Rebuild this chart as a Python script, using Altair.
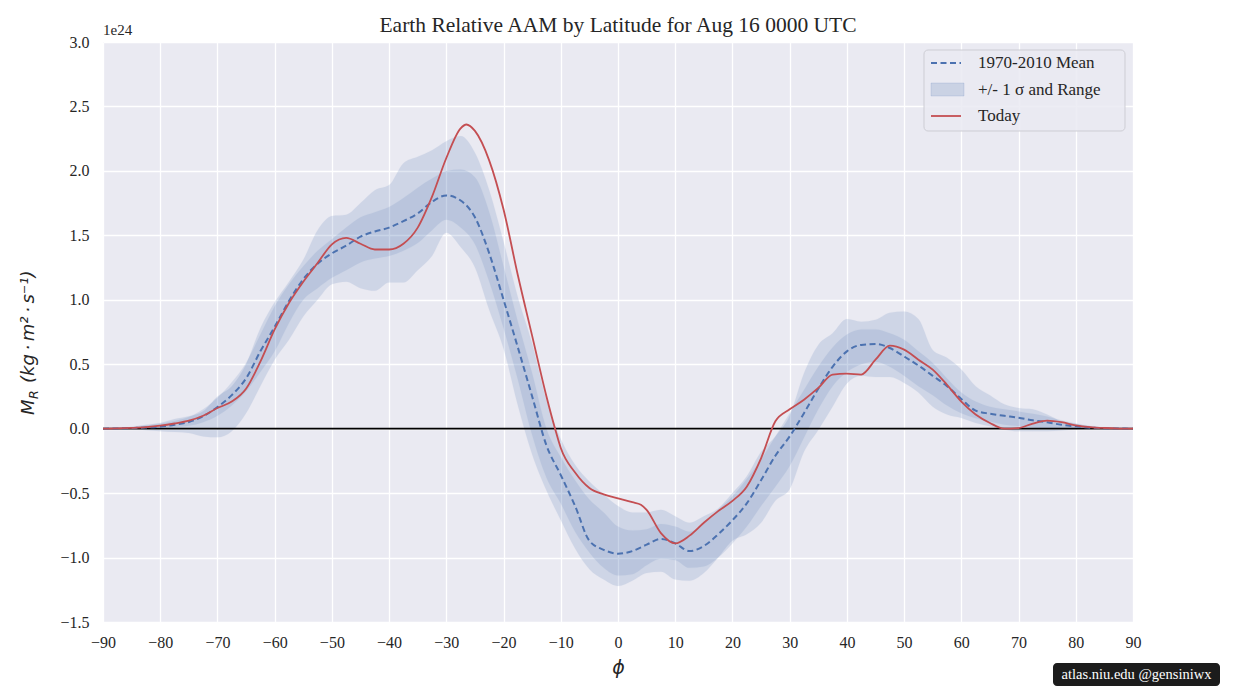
import altair as alt
import pandas as pd

# ---------------- data (values in units of 1e24 kg m^2 s^-1) ----------------
lat = [-90, -87.5, -85, -82.5, -80, -77.5, -75, -72.5, -70, -67.5, -65, -62.5, -60,
       -57.5, -55, -52.5, -50, -47.5, -45, -42.5, -40, -37.5, -35, -32.5, -30,
       -27.5, -25, -22.5, -20, -17.5, -15, -12.5, -10, -7.5, -5, -2.5, 0,
       2.5, 5, 7.5, 10, 12.5, 15, 17.5, 20, 22.5, 25, 27.5, 30,
       32.5, 35, 37.5, 40, 42.5, 45, 47.5, 50, 52.5, 55, 57.5, 60,
       62.5, 65, 67.5, 70, 72.5, 75, 77.5, 80, 82.5, 85, 87.5, 90]

mean_vals = [0.0, 0.002, 0.005, 0.009, 0.015, 0.03, 0.052, 0.096, 0.168, 0.26, 0.39, 0.60, 0.79,
             0.99, 1.16, 1.28, 1.36, 1.42, 1.49, 1.53, 1.56, 1.61, 1.67, 1.76, 1.81,
             1.77, 1.64, 1.36, 1.00, 0.63, 0.25, -0.13, -0.36, -0.60, -0.87, -0.94, -0.97,
             -0.95, -0.90, -0.855, -0.89, -0.95, -0.91, -0.82, -0.71, -0.58, -0.40, -0.21, -0.06,
             0.12, 0.31, 0.48, 0.60, 0.65, 0.657, 0.626, 0.56, 0.49, 0.41, 0.33, 0.23,
             0.14, 0.116, 0.10, 0.085, 0.065, 0.05, 0.03, 0.018, 0.008, 0.003, 0.001, 0.0]

std_hi = [0.0, 0.003, 0.01, 0.025, 0.04, 0.06, 0.09, 0.15, 0.24, 0.36, 0.51, 0.73, 0.95,
          1.12, 1.26, 1.38, 1.47, 1.56, 1.64, 1.68, 1.72, 1.79, 1.87, 1.94, 2.0,
          2.01, 1.95, 1.68, 1.26, 0.83, 0.43, 0.0, -0.22, -0.40, -0.55, -0.65, -0.76,
          -0.79, -0.78, -0.74, -0.76, -0.80, -0.73, -0.63, -0.525, -0.39, -0.24, -0.06, 0.12,
          0.30, 0.48, 0.63, 0.73, 0.77, 0.77, 0.74, 0.69, 0.60, 0.51, 0.39, 0.28,
          0.21, 0.17, 0.15, 0.134, 0.115, 0.095, 0.065, 0.04, 0.02, 0.01, 0.003, 0.0]

std_lo = [0.0, 0.0, 0.002, 0.004, 0.007, 0.012, 0.022, 0.05, 0.10, 0.18, 0.29, 0.44, 0.60,
          0.82, 1.00, 1.09, 1.17, 1.23, 1.29, 1.32, 1.34, 1.38, 1.44, 1.54, 1.62,
          1.56, 1.43, 1.14, 0.78, 0.38, -0.05, -0.38, -0.58, -0.80, -0.96, -1.08, -1.14,
          -1.13, -1.06, -1.01, -1.02, -1.08, -1.07, -1.00, -0.89, -0.76, -0.60, -0.45, -0.29,
          -0.07, 0.15, 0.33, 0.44, 0.50, 0.52, 0.48, 0.41, 0.33, 0.26, 0.18, 0.12,
          0.08, 0.055, 0.03, 0.02, 0.01, 0.005, 0.002, 0.0, 0.0, 0.0, 0.0, 0.0]

rng_hi = [0.0, 0.004, 0.015, 0.03, 0.044, 0.075, 0.096, 0.135, 0.25, 0.33, 0.50, 0.78, 0.98,
          1.14, 1.31, 1.54, 1.65, 1.66, 1.75, 1.85, 1.89, 2.06, 2.11, 2.16, 2.23,
          2.27, 2.14, 1.85, 1.45, 1.02, 0.66, 0.22, -0.08, -0.28, -0.41, -0.51, -0.60,
          -0.65, -0.65, -0.63, -0.68, -0.73, -0.68, -0.62, -0.50, -0.37, -0.18, -0.06, 0.10,
          0.43, 0.65, 0.74, 0.85, 0.83, 0.845, 0.90, 0.91, 0.85, 0.61, 0.55, 0.46,
          0.33, 0.26, 0.19, 0.16, 0.15, 0.11, 0.057, 0.039, 0.02, 0.01, 0.003, 0.0]

rng_lo = [0.0, -0.002, -0.006, -0.012, -0.02, -0.026, -0.034, -0.06, -0.067, -0.02, 0.12, 0.33, 0.535,
          0.69, 0.87, 1.0, 1.12, 1.14, 1.09, 1.07, 1.135, 1.135, 1.23, 1.34, 1.52,
          1.41, 1.25, 0.92, 0.62, 0.18, -0.20, -0.48, -0.71, -0.93, -1.09, -1.17, -1.22,
          -1.18, -1.12, -1.11, -1.17, -1.18, -1.12, -1.00, -0.87, -0.82, -0.73, -0.56, -0.47,
          -0.18, -0.01, 0.17, 0.35, 0.41, 0.40, 0.40, 0.355, 0.28, 0.17, 0.11, 0.083,
          0.044, 0.018, -0.008, -0.02, -0.02, -0.02, -0.015, -0.005, 0.0, 0.0, 0.0, 0.0]

today_lat = [-90, -87.5, -85, -82.5, -80, -77.5, -75, -72.5, -70, -67.5, -65, -62.5, -60,
             -57.5, -55, -52.5, -50, -47.5, -45, -42.5, -40, -37.5, -35, -32.5, -30,
             -27.5, -26.5, -25, -22.5, -20, -17.5, -15, -12.5, -11, -10, -7.5, -5, -2.5, 0,
             2.5, 4, 5, 7.5, 10, 12.5, 15, 17.5, 20, 22.5, 25, 27.5, 30,
             32.5, 35, 37.5, 40, 42.5, 45, 47.5, 50, 52.5, 55, 57.5, 60,
             62.5, 65, 67.5, 70, 72.5, 75, 77.5, 80, 82.5, 85, 87.5, 90]
today_vals = [0.0, 0.002, 0.006, 0.012, 0.023, 0.04, 0.062, 0.10, 0.16, 0.21, 0.31, 0.52, 0.77,
              0.975, 1.14, 1.285, 1.43, 1.48, 1.435, 1.39, 1.39, 1.435, 1.56, 1.80, 2.10,
              2.33, 2.36, 2.31, 2.08, 1.70, 1.19, 0.72, 0.25, 0.0, -0.15, -0.34, -0.46, -0.51, -0.54,
              -0.57, -0.59, -0.63, -0.81, -0.89, -0.83, -0.73, -0.64, -0.56, -0.45, -0.23, 0.057, 0.15,
              0.225, 0.316, 0.42, 0.427, 0.42, 0.535, 0.644, 0.613, 0.535, 0.458, 0.34, 0.21,
              0.11, 0.044, 0.0, 0.005, 0.04, 0.062, 0.05, 0.026, 0.012, 0.005, 0.001, 0.0]

x_ticks = [-90, -80, -70, -60, -50, -40, -30, -20, -10, 0, 10, 20, 30, 40, 50, 60, 70, 80, 90]
y_ticks = [-1.5, -1.0, -0.5, 0.0, 0.5, 1.0, 1.5, 2.0, 2.5, 3.0]

legend_labels = ["1970-2010 Mean", "+/- 1 \u03c3 and Range", "Today"]
title_text = "Earth Relative AAM by Latitude for Aug 16 0000 UTC"

clim = pd.DataFrame({"lat": lat, "mean": mean_vals, "std_lo": std_lo, "std_hi": std_hi,
                     "rng_lo": rng_lo, "rng_hi": rng_hi})
today = pd.DataFrame({"lat": today_lat, "today": today_vals})
one = pd.DataFrame({"k": [0]})

BLUE = "#4C72B0"
RED = "#C44E52"
TXT = "#262626"
SERIF = "Liberation Serif"

xscale = alt.Scale(domain=[-90, 90], nice=False, zero=False)
yscale = alt.Scale(domain=[-1.5, 3.0], nice=False, zero=False)
xaxis = alt.Axis(values=x_ticks, format="d", title="\u03d5", titleFont="DejaVu Sans",
                 titleFontStyle="italic", titleFontSize=19, titleFontWeight="normal",
                 labelPadding=12, titlePadding=8, labelFlush=False)
yaxis = alt.Axis(values=y_ticks, format=".1f", title=None, labelPadding=14, labelFlush=False)


def X(field):
    return alt.X(field, type="quantitative", scale=xscale, axis=xaxis)


def Y(field):
    return alt.Y(field, type="quantitative", scale=yscale, axis=yaxis)


rng_band = alt.Chart(clim).mark_area(
    color=BLUE, opacity=0.17, interpolate="monotone",
    stroke=BLUE, strokeOpacity=0.12, strokeWidth=1
).encode(x=X("lat"), y=Y("rng_lo"), y2="rng_hi")

std_band = alt.Chart(clim).mark_area(
    color=BLUE, opacity=0.15, interpolate="monotone",
    stroke=BLUE, strokeOpacity=0.12, strokeWidth=1
).encode(x=X("lat"), y=Y("std_lo"), y2="std_hi")

zero = alt.Chart(one).mark_rule(color="black", strokeWidth=1.6).encode(y=alt.datum(0, scale=yscale))

mean_line = alt.Chart(clim).mark_line(
    color=BLUE, strokeWidth=2, strokeDash=[6, 3.5], interpolate="monotone"
).encode(x=X("lat"), y=Y("mean"))

today_line = alt.Chart(today).mark_line(
    color=RED, strokeWidth=1.8, interpolate="monotone"
).encode(x=X("lat"), y=Y("today"))

# ---------------- legend (drawn by hand) ----------------
leg_box = alt.Chart(one).mark_rect(
    fill="#EAEAF2", fillOpacity=0.85, stroke="#CDCDD4", strokeWidth=1, cornerRadius=4
).encode(x=alt.value(821), x2=alt.value(1022), y=alt.value(8), y2=alt.value(89))
leg_mean = alt.Chart(one).mark_rule(color=BLUE, strokeWidth=2, strokeDash=[6, 3.5]).encode(
    x=alt.value(828), x2=alt.value(858), y=alt.value(21))
leg_band = alt.Chart(one).mark_rect(
    fill=BLUE, fillOpacity=0.2, stroke=BLUE, strokeOpacity=0.15
).encode(x=alt.value(828), x2=alt.value(861), y=alt.value(41), y2=alt.value(54))
leg_today = alt.Chart(one).mark_rule(color=RED, strokeWidth=1.8).encode(
    x=alt.value(828), x2=alt.value(858), y=alt.value(74))
leg_texts = [
    alt.Chart(one).mark_text(text=legend_labels[i], font=SERIF, fontSize=17, color=TXT,
                             align="left", baseline="middle").encode(
        x=alt.value(875), y=alt.value(yy))
    for i, yy in enumerate([21, 47.5, 74])
]

# ---------------- extra texts ----------------
title_mark = alt.Chart(one).mark_text(text=title_text, font=SERIF, fontSize=21.5, color=TXT,
                                      align="center", baseline="middle").encode(
    x=alt.value(515), y=alt.value(-16))

offset_txt = alt.Chart(one).mark_text(text="1e24", font=SERIF, fontSize=15, color=TXT,
                                      align="left", baseline="bottom").encode(
    x=alt.value(0), y=alt.value(-4))

ytitle_m = alt.Chart(one).mark_text(text="M", font="DejaVu Sans", fontStyle="italic", fontSize=18,
                                    color=TXT, angle=270, align="left", baseline="middle").encode(
    x=alt.value(-74), y=alt.value(373))
ytitle_r = alt.Chart(one).mark_text(text="R", font="DejaVu Sans", fontStyle="italic", fontSize=12.5,
                                    color=TXT, angle=270, align="left", baseline="middle").encode(
    x=alt.value(-69), y=alt.value(357))
ytitle_rest = alt.Chart(one).mark_text(text="(kg\u2009\u00b7\u2009m\u00b2\u2009\u00b7\u2009s\u207b\u00b9)",
                                       font="DejaVu Sans", fontStyle="italic", fontSize=18,
                                       color=TXT, angle=270, align="left", baseline="middle").encode(
    x=alt.value(-74), y=alt.value(341))

wm_box = alt.Chart(one).mark_rect(fill="#1c1c1c", cornerRadius=4).encode(
    x=alt.value(950), x2=alt.value(1117), y=alt.value(621), y2=alt.value(644))
wm_txt = alt.Chart(one).mark_text(text="atlas.niu.edu  @gensiniwx", font=SERIF, fontSize=14.5,
                                  color="white", align="center", baseline="middle").encode(
    x=alt.value(1033.5), y=alt.value(633))

chart = alt.layer(
    rng_band, std_band, zero, mean_line, today_line,
    leg_box, leg_mean, leg_band, leg_today, *leg_texts,
    title_mark, offset_txt, ytitle_m, ytitle_r, ytitle_rest, wm_box, wm_txt
).properties(
    width=1030, height=580,
    autosize=alt.AutoSizeParams(type="none"),
    padding={"left": 95, "top": 34, "right": 100, "bottom": 66},
).configure(
    background="white"
).configure_view(
    fill="#EAEAF2", stroke=None
).configure_axis(
    grid=True, gridColor="white", gridWidth=1.3, gridOpacity=1,
    domain=False, ticks=False,
    labelFont=SERIF, labelFontSize=16, labelColor=TXT,
    titleColor=TXT
)

chart.save("out.html", embed_options={"renderer": "svg", "actions": False})
